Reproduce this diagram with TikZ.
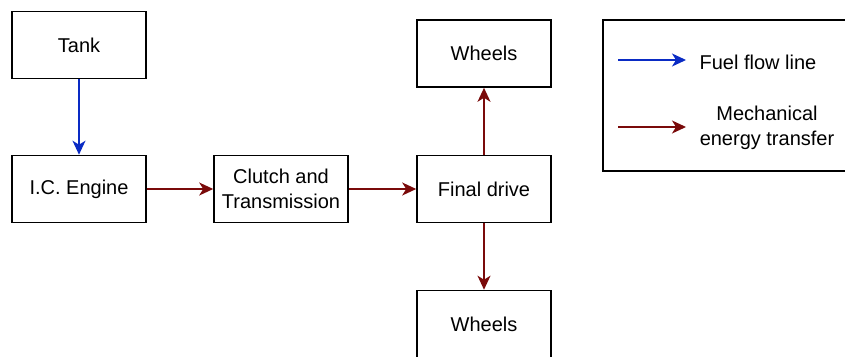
\documentclass[tikz,border=0pt]{standalone}
\usepackage{fontspec}
\setmainfont{Liberation Sans}
\usetikzlibrary{arrows.meta}
\usetikzlibrary{positioning}
\definecolor{fuelblue}{HTML}{0A2BC4}
\definecolor{mechred}{HTML}{7A0A0A}
\newcommand{\drawblock}[3]{
	\draw #1 node (#2) [shape=rectangle,draw,line width=1.6pt,minimum height=67pt,minimum width=134pt,align=center] {#3};
}

\begin{document}
\begin{tikzpicture}[x=1pt,y=-1pt,font=\fontsize{20}{25}\selectfont,
	fuel/.style={draw=fuelblue,line width=1.5pt,-{Stealth[length=14pt,width=13pt,inset=4pt]}},
	mech/.style={draw=mechred,line width=1.5pt,-{Stealth[length=14pt,width=13pt,inset=4pt]}}]
\useasboundingbox (0,0) rectangle (845,356);
\clip (0,0) rectangle (845,356);
% blocks
\drawblock{(79,45)}{tank}{Tank};
\drawblock{(79,189)}{engine}{I.C. Engine};
\drawblock{(281,189)}{clutch}{Clutch and\\Transmission};
\drawblock{(484,189)}{final}{Final drive};
\drawblock{(484,53.5)}{wheelsup}{Wheels};
\drawblock{(484,324)}{wheelsdown}{Wheels};
% flows
\draw[fuel] (tank) -- (engine);
\draw[mech] (engine) -- (clutch);
\draw[mech] (clutch) -- (final);
\draw[mech] (final) -- (wheelsup);
\draw[mech] (final) -- (wheelsdown);
% legend
\draw[line width=1.6pt] (603,20) rectangle (852,171);
\coordinate (fa) at (618,60);
\coordinate (fb) at (686,60);
\coordinate (ma) at (618,127);
\coordinate (mb) at (686,127);
\draw[fuel] (fa) -- (fb);
\draw[mech] (ma) -- (mb);
\draw (758,62) node (fueltxt) {Fuel flow line};
\draw (767,128) node (mechtxt) [align=center] {Mechanical\\energy transfer};
\end{tikzpicture}
\end{document}
